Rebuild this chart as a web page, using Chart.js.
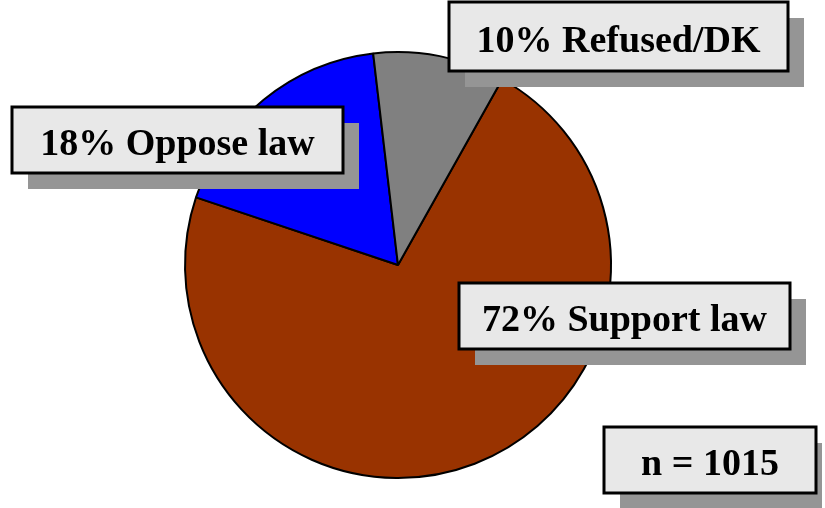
<!DOCTYPE html>
<html>
<head>
<meta charset="utf-8">
<script src="https://cdn.jsdelivr.net/npm/chart.js@4/dist/chart.umd.min.js"></script>
<style>
  html, body { margin: 0; padding: 0; background: #ffffff; }
  #wrap { width: 825px; height: 508px; }
</style>
</head>
<body>
<div id="wrap"><canvas id="c" width="825" height="508"></canvas></div>
<script>
const categories = ["Support law", "Oppose law", "Refused/DK"];
const values = [72, 18, 10];
const sliceColors = ["#993300", "#0000FF", "#808080"];
const sampleNote = "n = 1015";

// label boxes: [left, top, right, bottom]
const boxes = [
  [459, 283, 790, 349],
  [12, 107, 343, 173],
  [449, 2, 788, 71]
];
const noteBox = [604, 427, 816, 493];

function drawBox(ctx, b, text) {
  const [l, t, r, bt] = b;
  ctx.save();
  ctx.fillStyle = "#959595";
  ctx.fillRect(l + 16, t + 16, Math.min(r - l, 822 - l - 16), bt - t);
  ctx.fillStyle = "#E8E8E8";
  ctx.fillRect(l, t, r - l, bt - t);
  ctx.strokeStyle = "#000000";
  ctx.lineWidth = 3;
  ctx.strokeRect(l, t, r - l, bt - t);
  ctx.fillStyle = "#000000";
  ctx.font = "bold 38px 'Liberation Serif', 'Times New Roman', serif";
  ctx.textAlign = "center";
  ctx.textBaseline = "alphabetic";
  ctx.fillText(text, (l + r) / 2, (t + bt) / 2 + 15);
  ctx.restore();
}

const boxPlugin = {
  id: "boxes",
  afterDraw(chart) {
    const ctx = chart.ctx;
    categories.forEach((c, i) => {
      drawBox(ctx, boxes[i], values[i] + "% " + c);
    });
    drawBox(ctx, noteBox, sampleNote);
  }
};

new Chart(document.getElementById("c"), {
  type: "pie",
  data: {
    labels: categories,
    datasets: [{
      data: values,
      backgroundColor: sliceColors,
      borderColor: "#000000",
      borderWidth: 2
    }]
  },
  options: {
    responsive: false,
    animation: false,
    rotation: 29.3,
    radius: 213,
    layout: { padding: { left: 0, right: 29, top: 22, bottom: 0 } },
    plugins: {
      legend: { display: false },
      tooltip: { enabled: false }
    }
  },
  plugins: [boxPlugin]
});
</script>
</body>
</html>
